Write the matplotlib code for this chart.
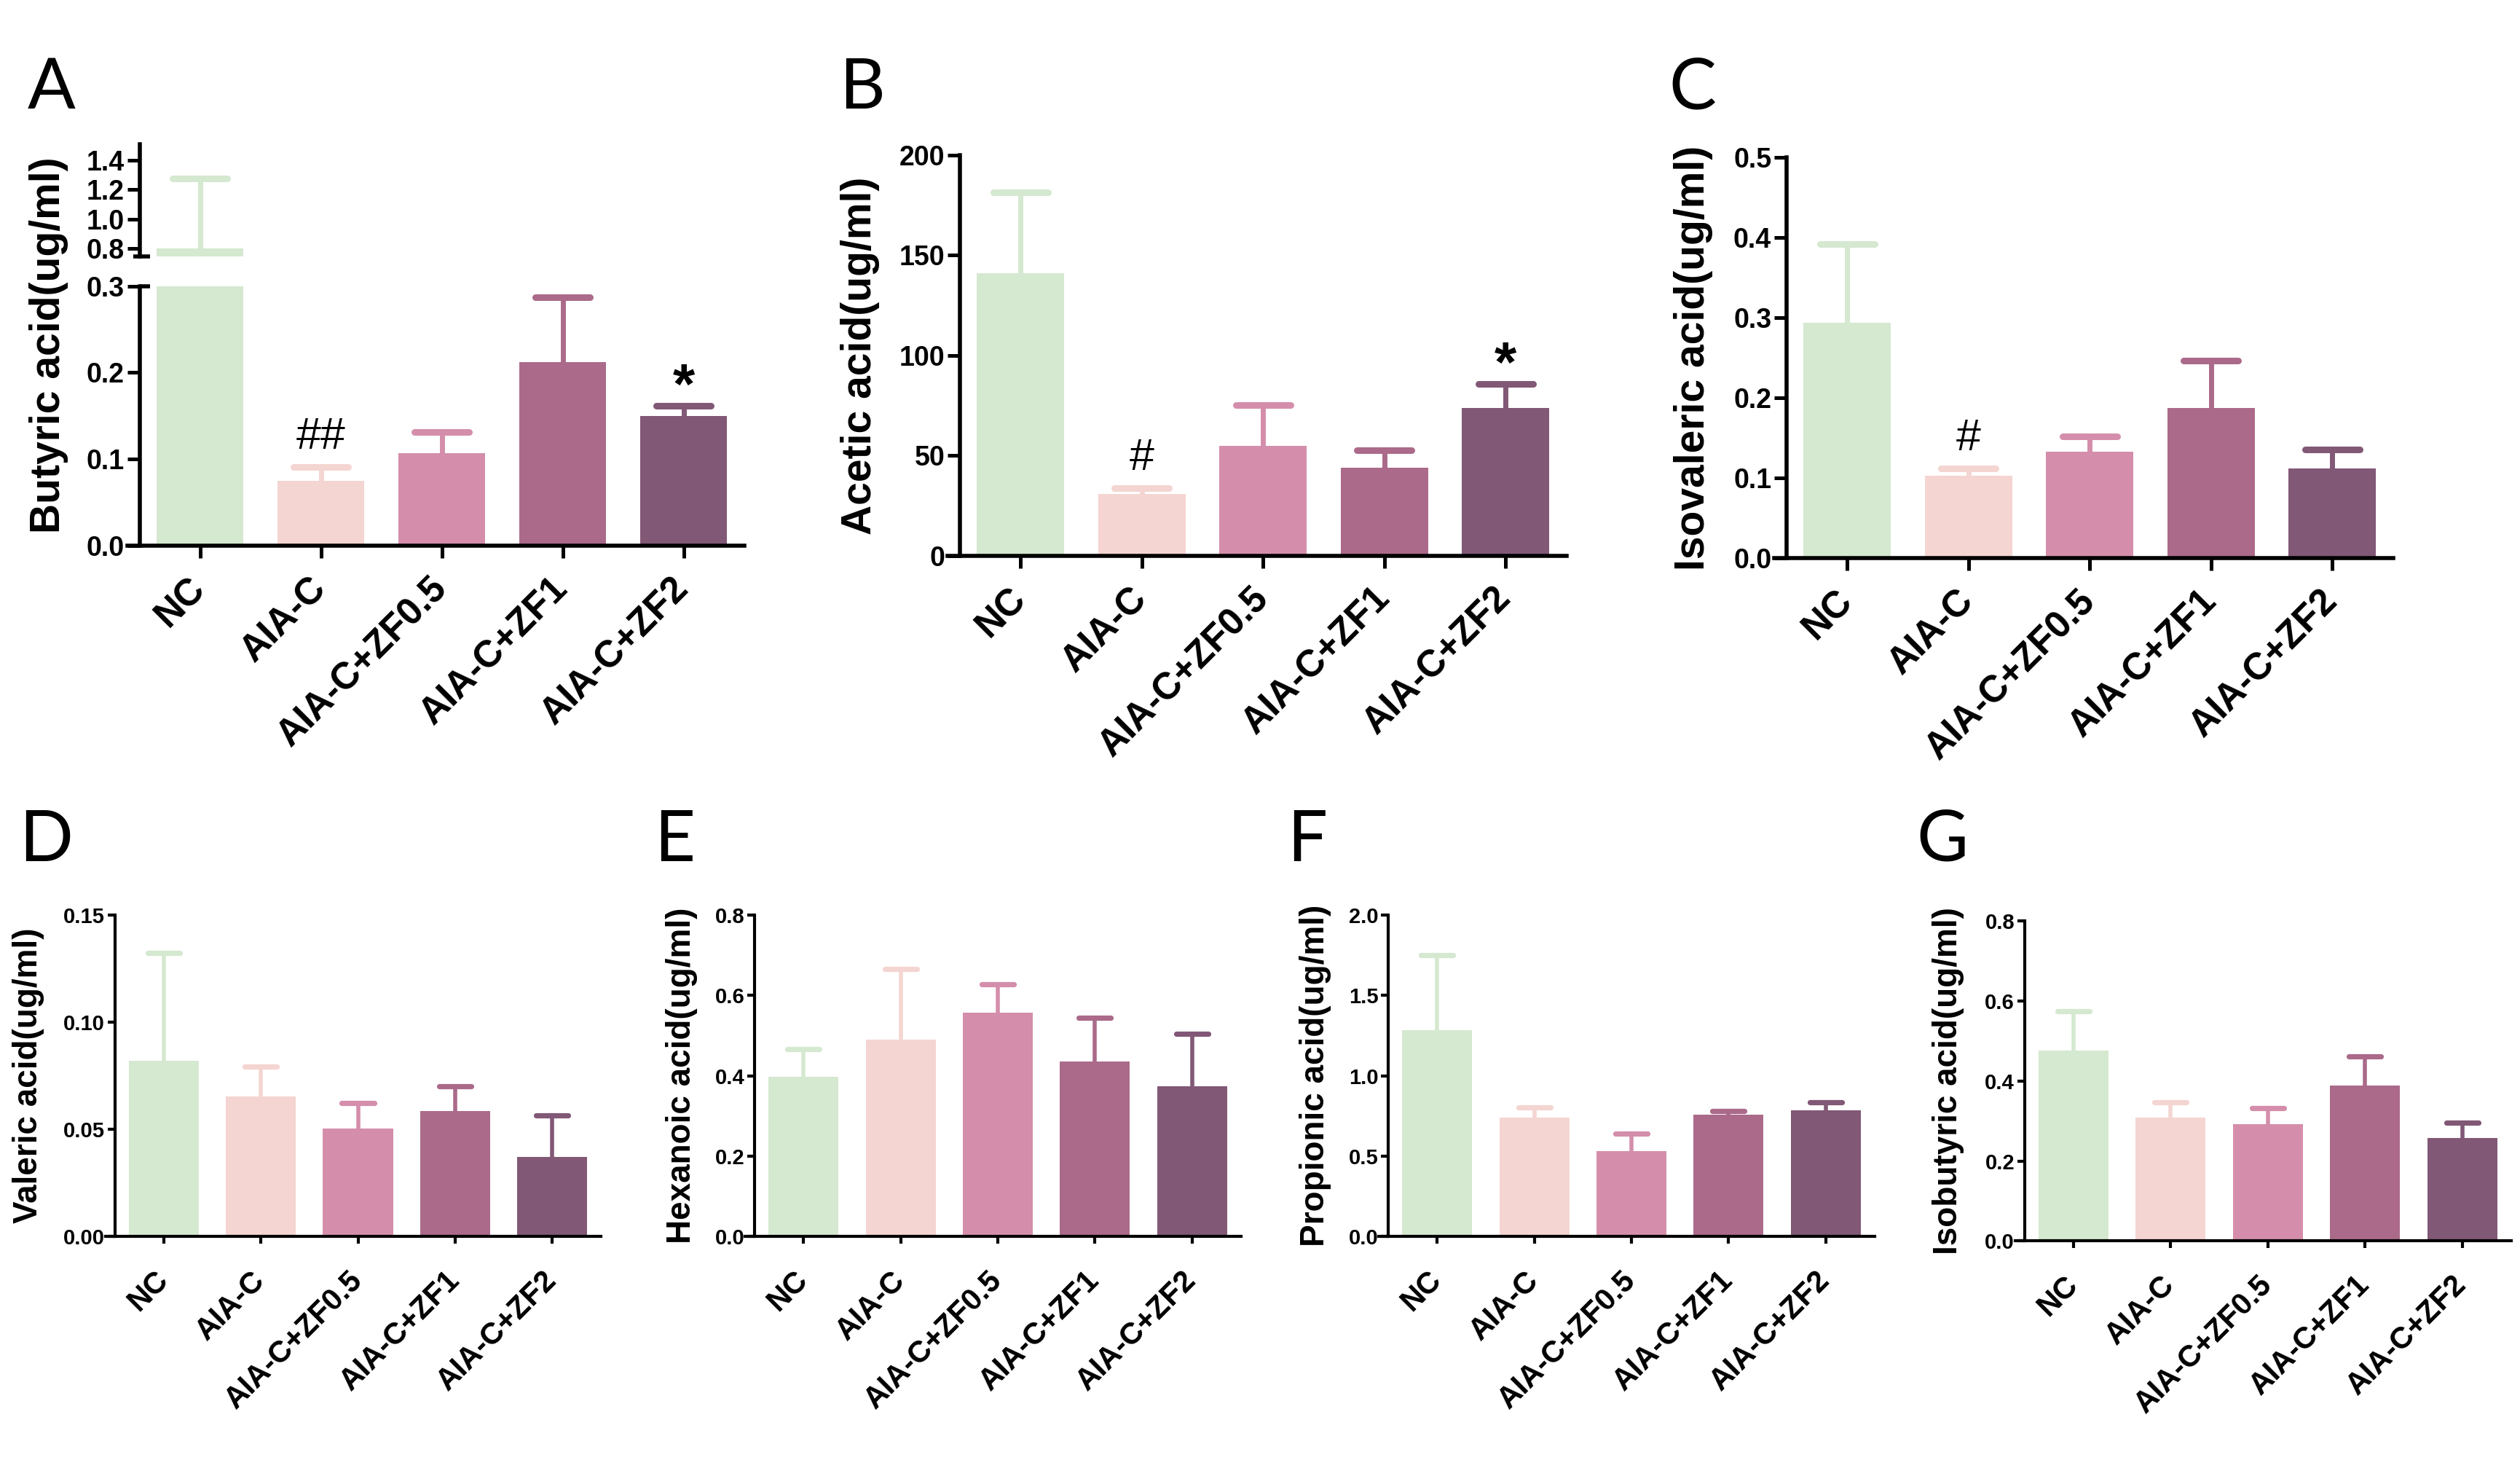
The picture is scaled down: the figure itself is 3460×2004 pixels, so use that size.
import matplotlib
matplotlib.use('Agg')
import matplotlib.pyplot as plt
import numpy as np

# ---------------- data ----------------
groups = ['NC', 'AIA-C', 'AIA-C+ZF0.5', 'AIA-C+ZF1', 'AIA-C+ZF2']
colors = ['#D5E8D0', '#F4D5D1', '#D48EAB', '#AB6A8A', '#815876']

butyric_mean = [0.80, 0.075, 0.107, 0.212, 0.150]
butyric_sd = [0.475, 0.016, 0.024, 0.075, 0.012]
butyric_sig = ['', '##', '', '', '*']

acetic_mean = [141.0, 30.9, 54.7, 43.8, 73.9]
acetic_sd = [40.5, 3.0, 20.7, 9.0, 11.8]
acetic_sig = ['', '#', '', '', '*']

isovaleric_mean = [0.294, 0.103, 0.133, 0.188, 0.112]
isovaleric_sd = [0.098, 0.009, 0.019, 0.059, 0.024]
isovaleric_sig = ['', '#', '', '', '']

valeric_mean = [0.082, 0.0653, 0.0505, 0.0586, 0.037]
valeric_sd = [0.0504, 0.0141, 0.0117, 0.0114, 0.0196]

hexanoic_mean = [0.397, 0.489, 0.557, 0.435, 0.373]
hexanoic_sd = [0.069, 0.176, 0.071, 0.109, 0.132]

propionic_mean = [1.284, 0.741, 0.529, 0.757, 0.784]
propionic_sd = [0.465, 0.062, 0.110, 0.024, 0.049]

isobutyric_mean = [0.475, 0.308, 0.292, 0.388, 0.258]
isobutyric_sd = [0.099, 0.039, 0.040, 0.074, 0.037]

butyric_low_ticks = [0.0, 0.1, 0.2, 0.3]
butyric_low_labels = ['0.0', '0.1', '0.2', '0.3']
butyric_up_ticks = [0.8, 1.0, 1.2, 1.4]
butyric_up_labels = ['0.8', '1.0', '1.2', '1.4']
acetic_ticks = [0, 50, 100, 150, 200]
acetic_labels = ['0', '50', '100', '150', '200']
isovaleric_ticks = [0.0, 0.1, 0.2, 0.3, 0.4, 0.5]
isovaleric_labels = ['0.0', '0.1', '0.2', '0.3', '0.4', '0.5']
valeric_ticks = [0.0, 0.05, 0.10, 0.15]
valeric_labels = ['0.00', '0.05', '0.10', '0.15']
hexanoic_ticks = [0.0, 0.2, 0.4, 0.6, 0.8]
hexanoic_labels = ['0.0', '0.2', '0.4', '0.6', '0.8']
propionic_ticks = [0.0, 0.5, 1.0, 1.5, 2.0]
propionic_labels = ['0.0', '0.5', '1.0', '1.5', '2.0']
isobutyric_ticks = [0.0, 0.2, 0.4, 0.6, 0.8]
isobutyric_labels = ['0.0', '0.2', '0.4', '0.6', '0.8']

# ---------------- style ----------------
plt.rcParams['font.family'] = ['Liberation Sans', 'DejaVu Sans']
plt.rcParams['font.weight'] = 'bold'

W, H = 3460, 2004
fig = plt.figure(figsize=(W / 100, H / 100), dpi=100)
fig.patch.set_facecolor('white')

TOP = dict(lw=4.0, ticklen=12, tickw=3.6, ytick=27, xtick=37, xpad=25,
           ylab=41, elw=5.0, cap=0.224, width=0.72)
BOT = dict(lw=3.0, ticklen=7, tickw=3.0, ytick=21, xtick=30, xpad=32,
           ylab=33, elw=4.0, cap=0.165, width=0.72)


def make_ax(yaxis_x, spacing, top, bottom):
    left = yaxis_x - 0.1 * spacing
    width = 5.1 * spacing
    return fig.add_axes([left / W, 1 - bottom / H, width / W, (bottom - top) / H])


def style(ax, st, ticks, labels, ylim, xlabels=True):
    x = np.arange(len(groups))
    for s in ['top', 'right']:
        ax.spines[s].set_visible(False)
    ax.spines['left'].set_position(('data', -0.5))
    ax.spines['left'].set_linewidth(st['lw'])
    ax.spines['bottom'].set_linewidth(st['lw'])
    ax.set_xlim(-0.6, 4.5)
    ax.set_ylim(*ylim)
    ax.set_yticks(ticks)
    ax.set_yticklabels(labels)
    ax.tick_params(axis='y', length=st['ticklen'], width=st['tickw'],
                   labelsize=st['ytick'], pad=3)
    ax.tick_params(axis='x', length=st['ticklen'], width=st['tickw'],
                   labelsize=st['xtick'], pad=st['xpad'])
    ax.set_xticks(x)
    if xlabels:
        ax.set_xticklabels(groups, rotation=45, ha='right', va='center',
                           rotation_mode='anchor', fontweight='bold')
    else:
        ax.set_xticklabels([])
    ax.patch.set_alpha(0)


def draw(ax, means, sds, st):
    x = np.arange(len(means))
    ax.bar(x, means, width=st['width'], color=colors, edgecolor='none', zorder=2)
    tops = np.asarray(means) + np.asarray(sds)
    for xi, m, t, c in zip(x, means, tops, colors):
        ax.vlines(xi, m, t, colors=c, linewidth=st['elw'], zorder=1)
        ax.hlines(t, xi - st['cap'], xi + st['cap'], colors=c,
                  linewidth=st['elw'] * 1.3, zorder=3, capstyle='round')
    return tops


def annotate(ax, tops, sig):
    for xi, (t, s) in enumerate(zip(tops, sig)):
        if not s:
            continue
        if s.startswith('#'):
            ax.annotate(s, (xi, t), xytext=(0, 18), textcoords='offset points',
                        ha='center', va='baseline', fontsize=44,
                        fontweight='normal', annotation_clip=False)
        else:
            ax.annotate(s, (xi, t), xytext=(0, 2), textcoords='offset points',
                        ha='center', va='baseline', fontsize=56,
                        fontweight='bold', annotation_clip=False)


def ylabel(text, x_px, top, bottom, size):
    fig.text(x_px / W, 1 - (top + bottom) / 2 / H, text, rotation=90,
             ha='center', va='center', fontsize=size, fontweight='bold')


def letter(text, x_px, y_px):
    fig.text(x_px / W, 1 - y_px / H, text, fontsize=70, fontweight='normal',
             family=['Lato', 'DejaVu Sans'], ha='left', va='baseline')


# ---------------- Panel A (broken axis) ----------------
upA = make_ax(191.5, 166, 197.7, 352)
loA = make_ax(191.5, 166, 392.7, 749)
style(loA, TOP, butyric_low_ticks, butyric_low_labels, (0, 0.3))
style(upA, TOP, butyric_up_ticks, butyric_up_labels, (0.748, 1.508), xlabels=False)
upA.spines['bottom'].set_visible(False)
upA.tick_params(axis='x', bottom=False)
tA = draw(loA, butyric_mean, butyric_sd, TOP)
draw(upA, butyric_mean, butyric_sd, TOP)
annotate(loA, tA, butyric_sig)
upA.plot([-0.5 - 9 / 166, -0.5 + 14 / 166], [0.748, 0.748], color='black',
         lw=TOP['lw'], clip_on=False, solid_capstyle='butt', zorder=5)
loA.plot([-0.5, -0.5 + 14 / 166], [0.3, 0.3], color='black',
         lw=TOP['lw'], clip_on=False, solid_capstyle='butt', zorder=5)
ylabel('Butyric acid(ug/ml)', 66.6, 197.7, 749, TOP['ylab'])
letter('A', 38, 149)

# ---------------- Panel B ----------------
axB = make_ax(1318, 166.5, 213, 762.8)
style(axB, TOP, acetic_ticks, acetic_labels, (0, 200))
tB = draw(axB, acetic_mean, acetic_sd, TOP)
annotate(axB, tB, acetic_sig)
ylabel('Acetic acid(ug/ml)', 1181, 213, 762.8, TOP['ylab'])
letter('B', 1152, 149)

# ---------------- Panel C ----------------
axC = make_ax(2453, 166.5, 216.3, 766.5)
style(axC, TOP, isovaleric_ticks, isovaleric_labels, (0, 0.5))
tC = draw(axC, isovaleric_mean, isovaleric_sd, TOP)
annotate(axC, tC, isovaleric_sig)
ylabel('Isovaleric acid(ug/ml)', 2325, 216.3, 766.5, TOP['ylab'])
letter('C', 2291, 149)

# ---------------- Bottom row ----------------
bottom_panels = [
    ('D', 'Valeric acid(ug/ml)', valeric_mean, valeric_sd, valeric_ticks,
     valeric_labels, (0, 0.15), 158, 133.4, 1256, 1697, 39, 26),
    ('E', 'Hexanoic acid(ug/ml)', hexanoic_mean, hexanoic_sd, hexanoic_ticks,
     hexanoic_labels, (0, 0.8), 1036.5, 133.4, 1256, 1697, 935.5, 898),
    ('F', 'Propionic acid(ug/ml)', propionic_mean, propionic_sd, propionic_ticks,
     propionic_labels, (0, 2.0), 1906.5, 133.4, 1256, 1697, 1805.5, 1767),
    ('G', 'Isobutyric acid(ug/ml)', isobutyric_mean, isobutyric_sd, isobutyric_ticks,
     isobutyric_labels, (0, 0.8), 2780, 133.5, 1263.8, 1703.4, 2675, 2631),
]
for (let, lab, m, sd, tk, tl, yl, yx, sp, top, bot, labx, letx) in bottom_panels:
    ax = make_ax(yx, sp, top, bot)
    style(ax, BOT, tk, tl, yl)
    draw(ax, m, sd, BOT)
    ylabel(lab, labx, top, bot, BOT['ylab'])
    letter(let, letx, 1182)

fig.savefig('out.png', dpi=100, facecolor='white')
